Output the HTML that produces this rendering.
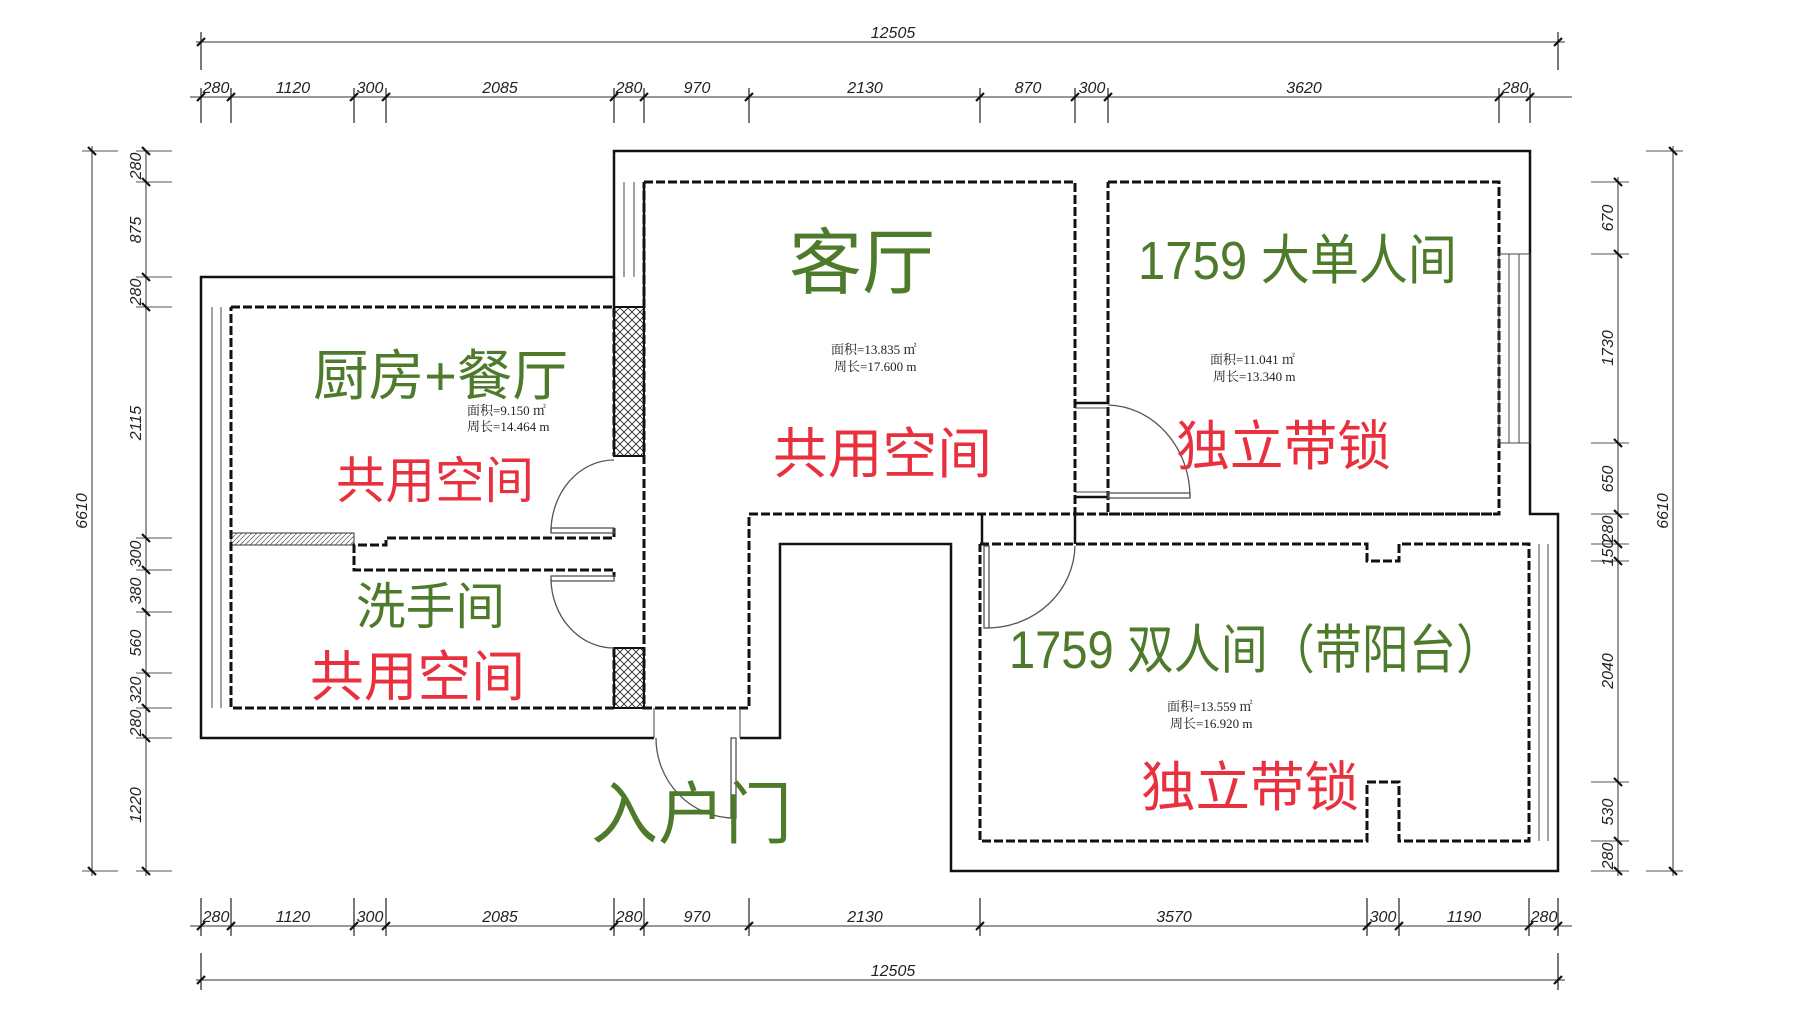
<!DOCTYPE html>
<html><head><meta charset="utf-8"><style>
html,body{margin:0;padding:0;background:#fff;}
svg{display:block}
.d{font-family:"Liberation Sans","DejaVu Sans",sans-serif;font-size:16px;fill:#222;font-style:italic}
.g{font-family:"Liberation Sans","Noto Sans CJK SC",sans-serif;fill:#4e7a2b}
.r{font-family:"Liberation Sans","Noto Sans CJK SC",sans-serif;fill:#e8303e}
.s{font-family:"Liberation Serif","Noto Serif CJK SC",serif;font-size:13px;fill:#222}
</style></head><body>
<svg width="1807" height="1015" viewBox="0 0 1807 1015" xmlns="http://www.w3.org/2000/svg">
<defs>
<pattern id="x" width="8" height="8" patternUnits="userSpaceOnUse">
<path d="M0 0L8 8M8 0L0 8" stroke="#222" stroke-width="0.8"/>
</pattern>
<pattern id="h" width="5" height="5" patternUnits="userSpaceOnUse">
<path d="M0 5L5 0" stroke="#666" stroke-width="0.8"/>
</pattern>
</defs>

<g stroke="#777" stroke-width="1.5" fill="none">
<line x1="196" y1="42" x2="1565" y2="42"/>
<line x1="190" y1="97" x2="1572" y2="97"/>
<line x1="190" y1="926" x2="1572" y2="926"/>
<line x1="196" y1="980" x2="1565" y2="980"/>
<line x1="146" y1="151" x2="146" y2="876"/>
<line x1="92" y1="146" x2="92" y2="876"/>
<line x1="1618" y1="177" x2="1618" y2="876"/>
<line x1="1673" y1="146" x2="1673" y2="876"/>
</g>
<g stroke="#222" stroke-width="1.2">
<line x1="201" y1="32" x2="201" y2="70"/><line x1="1558" y1="32" x2="1558" y2="70"/>
<line x1="201" y1="88" x2="201" y2="123"/><line x1="231" y1="88" x2="231" y2="123"/>
<line x1="354" y1="88" x2="354" y2="123"/><line x1="386" y1="88" x2="386" y2="123"/>
<line x1="614" y1="88" x2="614" y2="123"/><line x1="644" y1="88" x2="644" y2="123"/>
<line x1="749" y1="88" x2="749" y2="123"/><line x1="980" y1="88" x2="980" y2="123"/>
<line x1="1075" y1="88" x2="1075" y2="123"/><line x1="1108" y1="88" x2="1108" y2="123"/>
<line x1="1499" y1="88" x2="1499" y2="123"/><line x1="1530" y1="88" x2="1530" y2="123"/>
<line x1="201" y1="898" x2="201" y2="936"/><line x1="231" y1="898" x2="231" y2="936"/>
<line x1="354" y1="898" x2="354" y2="936"/><line x1="386" y1="898" x2="386" y2="936"/>
<line x1="614" y1="898" x2="614" y2="936"/><line x1="644" y1="898" x2="644" y2="936"/>
<line x1="749" y1="898" x2="749" y2="936"/><line x1="980" y1="898" x2="980" y2="936"/>
<line x1="1367" y1="898" x2="1367" y2="936"/><line x1="1399" y1="898" x2="1399" y2="936"/>
<line x1="1529" y1="898" x2="1529" y2="936"/><line x1="1558" y1="898" x2="1558" y2="936"/>
<line x1="201" y1="953" x2="201" y2="990"/><line x1="1558" y1="953" x2="1558" y2="990"/>
</g>
<g stroke="#777" stroke-width="1.2">
<line x1="136" y1="151" x2="172" y2="151"/><line x1="136" y1="182" x2="172" y2="182"/>
<line x1="136" y1="277" x2="172" y2="277"/><line x1="136" y1="307" x2="172" y2="307"/>
<line x1="136" y1="538" x2="172" y2="538"/><line x1="136" y1="570" x2="172" y2="570"/>
<line x1="136" y1="612" x2="172" y2="612"/><line x1="136" y1="673" x2="172" y2="673"/>
<line x1="136" y1="708" x2="172" y2="708"/><line x1="136" y1="738" x2="172" y2="738"/>
<line x1="136" y1="871" x2="172" y2="871"/>
<line x1="82" y1="151" x2="118" y2="151"/><line x1="82" y1="871" x2="118" y2="871"/>
<line x1="1591" y1="182" x2="1629" y2="182"/><line x1="1591" y1="254" x2="1629" y2="254"/>
<line x1="1591" y1="443" x2="1629" y2="443"/><line x1="1591" y1="514" x2="1629" y2="514"/>
<line x1="1591" y1="544" x2="1629" y2="544"/><line x1="1591" y1="561" x2="1629" y2="561"/>
<line x1="1591" y1="782" x2="1629" y2="782"/><line x1="1591" y1="841" x2="1629" y2="841"/>
<line x1="1591" y1="871" x2="1629" y2="871"/>
<line x1="1646" y1="151" x2="1683" y2="151"/><line x1="1646" y1="871" x2="1683" y2="871"/>
</g>
<g stroke="#111" stroke-width="2.2">
<path d="M197 46l8-8M1554 46l8-8M197 101l8-8M227 101l8-8M350 101l8-8M382 101l8-8M610 101l8-8M640 101l8-8M745 101l8-8M976 101l8-8M1071 101l8-8M1104 101l8-8M1495 101l8-8M1526 101l8-8"/>
<path d="M197 930l8-8M227 930l8-8M350 930l8-8M382 930l8-8M610 930l8-8M640 930l8-8M745 930l8-8M976 930l8-8M1363 930l8-8M1395 930l8-8M1525 930l8-8M1554 930l8-8M197 984l8-8M1554 984l8-8"/>
<path d="M142 147l8 8M142 178l8 8M142 273l8 8M142 303l8 8M142 534l8 8M142 566l8 8M142 608l8 8M142 669l8 8M142 704l8 8M142 734l8 8M142 867l8 8M88 147l8 8M88 867l8 8"/>
<path d="M1614 178l8 8M1614 250l8 8M1614 439l8 8M1614 510l8 8M1614 540l8 8M1614 557l8 8M1614 778l8 8M1614 837l8 8M1614 867l8 8M1669 147l8 8M1669 867l8 8"/>
</g>
<g class="d" text-anchor="middle">
<text x="893" y="38">12505</text>
<text x="216" y="93">280</text><text x="293" y="93">1120</text><text x="370" y="93">300</text>
<text x="500" y="93">2085</text><text x="629" y="93">280</text><text x="697" y="93">970</text>
<text x="865" y="93">2130</text><text x="1028" y="93">870</text><text x="1092" y="93">300</text>
<text x="1304" y="93">3620</text><text x="1515" y="93">280</text>
<text x="216" y="922">280</text><text x="293" y="922">1120</text><text x="370" y="922">300</text>
<text x="500" y="922">2085</text><text x="629" y="922">280</text><text x="697" y="922">970</text>
<text x="865" y="922">2130</text><text x="1174" y="922">3570</text><text x="1383" y="922">300</text>
<text x="1464" y="922">1190</text><text x="1544" y="922">280</text>
<text x="893" y="976">12505</text>
<text transform="translate(141,166) rotate(-90)">280</text>
<text transform="translate(141,230) rotate(-90)">875</text>
<text transform="translate(141,292) rotate(-90)">280</text>
<text transform="translate(141,423) rotate(-90)">2115</text>
<text transform="translate(141,554) rotate(-90)">300</text>
<text transform="translate(141,591) rotate(-90)">380</text>
<text transform="translate(141,643) rotate(-90)">560</text>
<text transform="translate(141,690) rotate(-90)">320</text>
<text transform="translate(141,723) rotate(-90)">280</text>
<text transform="translate(141,805) rotate(-90)">1220</text>
<text transform="translate(87,511) rotate(-90)">6610</text>
<text transform="translate(1613,218) rotate(-90)">670</text>
<text transform="translate(1613,348) rotate(-90)">1730</text>
<text transform="translate(1613,479) rotate(-90)">650</text>
<text transform="translate(1613,529) rotate(-90)">280</text>
<text transform="translate(1613,553) rotate(-90)">150</text>
<text transform="translate(1613,671) rotate(-90)">2040</text>
<text transform="translate(1613,812) rotate(-90)">530</text>
<text transform="translate(1613,856) rotate(-90)">280</text>
<text transform="translate(1668,511) rotate(-90)">6610</text>
</g>

<rect x="614" y="307" width="30" height="149" fill="url(#x)" stroke="#111" stroke-width="2"/>
<rect x="614" y="648" width="30" height="60" fill="url(#x)" stroke="#111" stroke-width="2"/>
<rect x="231" y="533" width="123" height="12" fill="url(#h)" stroke="#333" stroke-width="1"/>

<g fill="none" stroke="#111" stroke-width="2.5">
<path d="M654 738L201 738L201 277L614 277L614 151L1530 151L1530 514L1558 514L1558 871L951 871L951 544L780 544L780 738L740 738"/>
<line x1="614" y1="277" x2="614" y2="307"/>
<line x1="644" y1="182" x2="644" y2="307"/>
</g>
<g fill="none" stroke="#111" stroke-width="3" stroke-dasharray="9 3">
<path d="M231 307L614 307L614 456M614 528L614 538L386 538L386 545L354 545L354 570L614 570L614 577M614 648L614 708L231 708L231 307"/>
<path d="M644 182L1075 182L1075 514L749 514L749 708L644 708L644 182"/>
<path d="M1108 182L1499 182L1499 514L1108 514L1108 182"/>
<path d="M980 544L1367 544L1367 561L1399 561L1399 544L1529 544L1529 841L1399 841L1399 782L1367 782L1367 841L980 841L980 544"/>
<line x1="1075" y1="514" x2="1499" y2="514"/>
</g>
<g stroke="#111" stroke-width="2.5">
<line x1="1075" y1="403" x2="1108" y2="403"/>
<line x1="1075" y1="497" x2="1108" y2="497"/>
<line x1="982" y1="514" x2="982" y2="544"/>
<line x1="1075" y1="514" x2="1075" y2="544"/>
</g>
<g stroke="#444" stroke-width="1" fill="none">
<line x1="212" y1="307" x2="212" y2="708"/><line x1="221" y1="307" x2="221" y2="708"/>
<line x1="624" y1="182" x2="624" y2="277"/><line x1="634" y1="182" x2="634" y2="277"/>
<rect x="1499" y="254" width="31" height="189"/>
<line x1="1509" y1="254" x2="1509" y2="443"/><line x1="1519" y1="254" x2="1519" y2="443"/>
<line x1="1539" y1="544" x2="1539" y2="841"/><line x1="1548" y1="544" x2="1548" y2="841"/>
<line x1="654" y1="708" x2="654" y2="738"/><line x1="740" y1="708" x2="740" y2="738"/>
<line x1="1075" y1="408" x2="1108" y2="408"/><line x1="1075" y1="492" x2="1108" y2="492"/>
</g>
<g stroke="#555" stroke-width="1.3" fill="none">
<path d="M614 460 A63 72 0 0 0 551 532"/>
<rect x="551" y="528" width="63" height="5"/>
<path d="M551 579 A63 70 0 0 0 614 648"/>
<rect x="551" y="576" width="63" height="5"/>
<path d="M1108 405 A84 92 0 0 1 1190 497"/>
<rect x="1108" y="493" width="82" height="5"/>
<path d="M1075 546 A88 84 0 0 1 987 628"/>
<rect x="984" y="546" width="5" height="82"/>
<path d="M656 738 A78 80 0 0 0 734 818"/>
<rect x="731" y="738" width="5" height="80"/>
</g>

<text class="g" x="789" y="288" font-size="72" textLength="146" lengthAdjust="spacingAndGlyphs">客厅</text>
<text class="g" x="313" y="395" font-size="55" textLength="255" lengthAdjust="spacingAndGlyphs">厨房+餐厅</text>
<text class="r" x="336" y="498" font-size="50" textLength="198" lengthAdjust="spacingAndGlyphs">共用空间</text>
<text class="g" x="356" y="624" font-size="50" textLength="149" lengthAdjust="spacingAndGlyphs">洗手间</text>
<text class="r" x="310" y="696" font-size="55" textLength="215" lengthAdjust="spacingAndGlyphs">共用空间</text>
<text class="g" x="591" y="838" font-size="68" textLength="201" lengthAdjust="spacingAndGlyphs">入户门</text>
<text class="r" x="773" y="473" font-size="55" textLength="219" lengthAdjust="spacingAndGlyphs">共用空间</text>
<text class="g" x="1138" y="279" font-size="54" textLength="319" lengthAdjust="spacingAndGlyphs">1759 大单人间</text>
<text class="r" x="1176" y="465" font-size="54" textLength="215" lengthAdjust="spacingAndGlyphs">独立带锁</text>
<text class="g" x="1009" y="668" font-size="53" textLength="494" lengthAdjust="spacingAndGlyphs">1759 双人间（带阳台）</text>
<text class="r" x="1141" y="806" font-size="54" textLength="218" lengthAdjust="spacingAndGlyphs">独立带锁</text>

<text class="s" x="467" y="415">面积=9.150 ㎡</text>
<text class="s" x="467" y="431">周长=14.464 m</text>
<text class="s" x="831" y="354">面积=13.835 ㎡</text>
<text class="s" x="834" y="371">周长=17.600 m</text>
<text class="s" x="1210" y="364">面积=11.041 ㎡</text>
<text class="s" x="1213" y="381">周长=13.340 m</text>
<text class="s" x="1167" y="711">面积=13.559 ㎡</text>
<text class="s" x="1170" y="728">周长=16.920 m</text>
</svg>
</body></html>
